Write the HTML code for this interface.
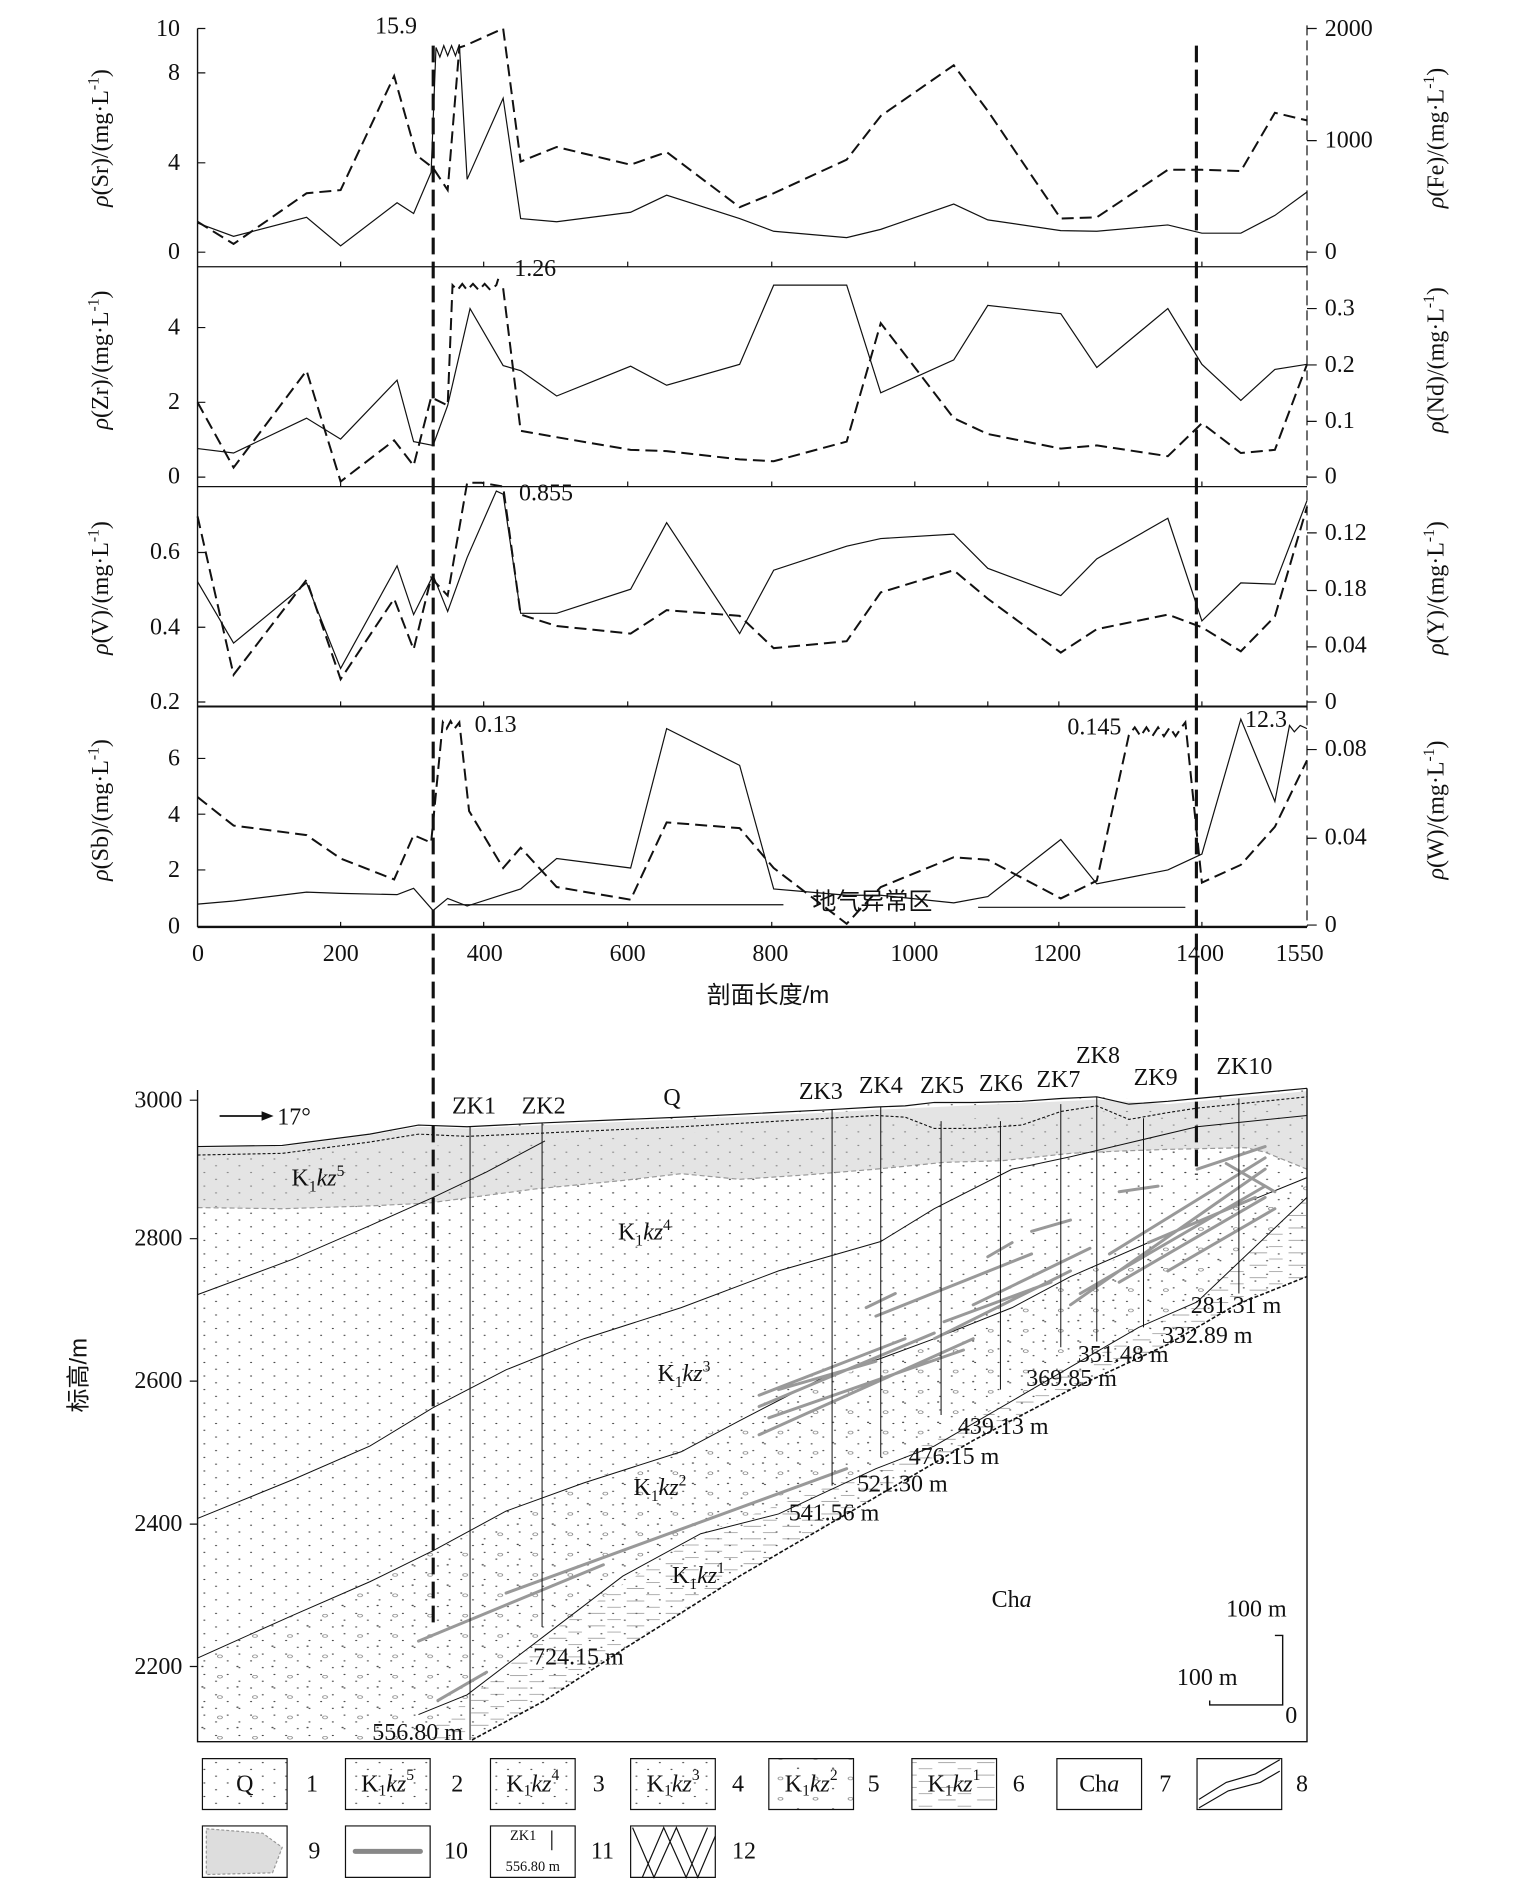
<!DOCTYPE html>
<html><head><meta charset="utf-8"><style>
html,body{margin:0;padding:0;background:#fff}
svg{display:block}
text{font-family:"Liberation Serif","Noto Serif CJK SC",serif;fill:#111}
.s{font-family:"Liberation Sans","Noto Sans CJK SC",sans-serif}
</style></head><body>
<svg width="1535" height="1892" viewBox="0 0 1279.17 1576.67" xmlns="http://www.w3.org/2000/svg">
<defs>
<pattern id="dots" patternUnits="userSpaceOnUse" width="24" height="24"><circle cx="6" cy="6" r="1.1" fill="#444"/><circle cx="18" cy="18" r="1.1" fill="#444"/></pattern>
<pattern id="circ" patternUnits="userSpaceOnUse" width="36" height="36"><circle cx="10" cy="10" r="2.5" fill="none" stroke="#666" stroke-width="0.8"/><circle cx="28" cy="28" r="1.2" fill="#444"/></pattern>
<pattern id="dash" patternUnits="userSpaceOnUse" width="40" height="22"><line x1="4" y1="8" x2="22" y2="8" stroke="#777" stroke-width="1"/><line x1="24" y1="19" x2="38" y2="19" stroke="#777" stroke-width="1"/></pattern>
</defs>

<g transform="scale(0.811,0.528)" fill="none" stroke="#111">
<g>
<line x1="203" y1="45" x2="203" y2="1463" stroke-width="1.4" vector-effect="non-scaling-stroke"/>
<line x1="1343" y1="40" x2="1343" y2="1463" stroke-width="1.2" stroke-dasharray="10,5" vector-effect="non-scaling-stroke"/>
<line x1="203" y1="421" x2="1343" y2="421" stroke-width="1.2" vector-effect="non-scaling-stroke"/>
<line x1="203" y1="768" x2="1343" y2="768" stroke-width="1.2" vector-effect="non-scaling-stroke"/>
<line x1="203" y1="1115" x2="1343" y2="1115" stroke-width="2" vector-effect="non-scaling-stroke"/>
<line x1="203" y1="1463" x2="1343" y2="1463" stroke-width="2.4" vector-effect="non-scaling-stroke"/>
</g>
<path vector-effect="non-scaling-stroke" stroke-width="1.2" d="M203 45h8M203 115h8M203 257h8M203 398h8M203 517h8M203 635h8M203 753h8M203 872h8M203 990h8M203 1108h8M203 1197h8M203 1285h8M203 1373h8M203 1463h8"/>
<path vector-effect="non-scaling-stroke" stroke-width="1.2" d="M1343 45h10M1343 222h10M1343 398h10M1343 487h10M1343 576h10M1343 665h10M1343 753h10M1343 841h10M1343 932h10M1343 1021h10M1343 1108h10M1343 1183h10M1343 1323h10M1343 1460h10"/>
<path vector-effect="non-scaling-stroke" stroke-width="1.2" d="M350 1463v-8M497 1463v-8M645 1463v-8M793 1463v-8M940 1463v-8M1088 1463v-8M1235 1463v-8M1015 421v-8M1015 768v-8M1015 1115v-8M350 421v-8M497 421v-8M645 421v-8M793 421v-8M940 421v-8M1088 421v-8M1235 421v-8M350 768v-8M497 768v-8M645 768v-8M793 768v-8M940 768v-8M1088 768v-8M1235 768v-8M350 1115v-8M497 1115v-8M645 1115v-8M793 1115v-8M940 1115v-8M1088 1115v-8M1235 1115v-8"/>

<polyline vector-effect="non-scaling-stroke" stroke-width="1.2" points="203,352 240,373 315,343 350,388 408,320 425,337 443,272 448,75 452,90 456,72 460,88 464,72 468,88 472,70 480,283 517,155 535,345 572,350 648,335 685,308 760,345 795,365 870,375 905,362 980,322 1015,347 1090,364 1127,365 1200,355 1235,368 1275,368 1310,340 1343,303"/>
<polyline vector-effect="non-scaling-stroke" stroke-width="2" stroke-dasharray="12,6" points="203,350 240,385 315,305 350,300 405,120 428,245 445,265 460,300 472,75 478,72 517,45 535,255 572,232 648,260 685,240 760,327 795,305 870,252 905,183 980,103 1015,175 1090,345 1127,343 1200,268 1235,268 1275,270 1310,178 1343,190"/>
<polyline vector-effect="non-scaling-stroke" stroke-width="1.2" points="203,708 240,715 315,660 350,693 408,600 425,697 445,703 460,640 483,487 517,577 535,585 572,625 648,578 685,608 760,575 795,450 870,450 905,620 980,568 1015,482 1090,495 1127,580 1200,487 1235,575 1275,632 1310,583 1343,575"/>
<polyline vector-effect="non-scaling-stroke" stroke-width="2" stroke-dasharray="12,6" points="203,635 240,738 315,585 350,760 405,695 425,735 443,627 460,640 465,450 470,458 475,448 480,458 486,448 492,458 498,448 504,458 510,450 512,440"/>
<polyline vector-effect="non-scaling-stroke" stroke-width="2" stroke-dasharray="12,6" points="517,455 535,680 572,690 648,710 685,712 760,725 795,728 870,697 905,510 980,660 1015,685 1090,708 1127,703 1200,720 1235,668 1275,715 1310,710 1343,575"/>
<polyline vector-effect="non-scaling-stroke" stroke-width="1.2" points="203,918 240,1015 315,920 350,1055 408,893 425,970 445,908 460,965 480,880 510,775 517,780 535,968 572,968 648,930 685,825 760,1000 795,900 870,862 905,850 980,843 1015,897 1090,940 1127,882 1200,818 1235,980 1275,920 1310,922 1343,790"/>
<polyline vector-effect="non-scaling-stroke" stroke-width="2" stroke-dasharray="12,6" points="203,815 240,1065 315,915 350,1072 405,945 425,1025 443,912 460,940 480,762 495,762 517,768 535,970 572,988 648,1000 685,963 760,972 795,1023 870,1012 905,935 980,900 1015,945 1090,1030 1127,993 1200,970 1235,990 1275,1028 1310,973 1343,800"/>
<polyline vector-effect="non-scaling-stroke" stroke-width="1.2" points="203,1427 240,1422 315,1408 350,1410 408,1412 425,1402 445,1437 460,1418 480,1430 535,1403 572,1355 648,1370 685,1150 760,1208 795,1403 870,1413 905,1413 980,1425 1015,1415 1090,1325 1127,1395 1200,1373 1235,1348 1275,1135 1310,1265 1325,1145 1330,1155 1336,1145 1343,1150"/>
<polyline vector-effect="non-scaling-stroke" stroke-width="2" stroke-dasharray="12,6" points="203,1258 240,1303 315,1318 350,1355 405,1388 425,1318 443,1330 455,1140 459,1150 463,1138 467,1150 472,1140 482,1280 517,1370 535,1338 572,1400 648,1420 685,1298 760,1307 795,1370 870,1458 905,1400 980,1353 1015,1357 1090,1418 1127,1390 1160,1160 1166,1148 1172,1162 1178,1148 1184,1162 1190,1148 1196,1162 1202,1148 1208,1162 1214,1148 1218,1140 1235,1393 1275,1365 1310,1305 1343,1200"/>
<line vector-effect="non-scaling-stroke" stroke-width="1.2" x1="460" y1="1428" x2="805" y2="1428"/>
<line vector-effect="non-scaling-stroke" stroke-width="1.2" x1="1005" y1="1432" x2="1218" y2="1432"/>
</g>

<g font-size="20" text-anchor="end" dominant-baseline="central">
<text x="150" y="24">10</text><text x="150" y="61">8</text><text x="150" y="136">4</text><text x="150" y="210">0</text>
<text x="150" y="273">4</text><text x="150" y="335">2</text><text x="150" y="397">0</text>
<text x="150" y="460">0.6</text><text x="150" y="523">0.4</text><text x="150" y="585">0.2</text>
<text x="150" y="632">6</text><text x="150" y="679">4</text><text x="150" y="725">2</text><text x="150" y="772">0</text>
</g>
<g font-size="20" dominant-baseline="central">
<text x="1104" y="24">2000</text><text x="1104" y="117">1000</text><text x="1104" y="210">0</text>
<text x="1104" y="257">0.3</text><text x="1104" y="304">0.2</text><text x="1104" y="351">0.1</text><text x="1104" y="397">0</text>
<text x="1104" y="444">0.12</text><text x="1104" y="491">0.18</text><text x="1104" y="538">0.04</text><text x="1104" y="585">0</text>
<text x="1104" y="624">0.08</text><text x="1104" y="698">0.04</text><text x="1104" y="771">0</text>
</g>
<g font-size="20" text-anchor="middle">
<text x="165" y="801">0</text><text x="284" y="801">200</text><text x="404" y="801">400</text><text x="523" y="801">600</text><text x="642" y="801">800</text><text x="762" y="801">1000</text><text x="881" y="801">1200</text><text x="1000" y="801">1400</text><text x="1083" y="801">1550</text>
<text x="640" y="836" class="s">剖面长度/m</text>
<text x="330" y="28">15.9</text><text x="446" y="230">1.26</text><text x="455" y="417">0.855</text><text x="413" y="610">0.13</text><text x="912" y="612">0.145</text><text x="1055" y="606">12.3</text>
<text x="727" y="758" class="s">地气异常区</text>
</g>
<g font-size="20" text-anchor="middle">
<text transform="translate(90,115) rotate(-90)"><tspan font-style="italic">ρ</tspan>(Sr)/(mg·L<tspan dy="-8" font-size="13">-1</tspan><tspan dy="8">)</tspan></text>
<text transform="translate(90,300) rotate(-90)"><tspan font-style="italic">ρ</tspan>(Zr)/(mg·L<tspan dy="-8" font-size="13">-1</tspan><tspan dy="8">)</tspan></text>
<text transform="translate(90,490) rotate(-90)"><tspan font-style="italic">ρ</tspan>(V)/(mg·L<tspan dy="-8" font-size="13">-1</tspan><tspan dy="8">)</tspan></text>
<text transform="translate(90,675) rotate(-90)"><tspan font-style="italic">ρ</tspan>(Sb)/(mg·L<tspan dy="-8" font-size="13">-1</tspan><tspan dy="8">)</tspan></text>
<text transform="translate(1203,115) rotate(-90)"><tspan font-style="italic">ρ</tspan>(Fe)/(mg·L<tspan dy="-8" font-size="13">-1</tspan><tspan dy="8">)</tspan></text>
<text transform="translate(1203,300) rotate(-90)"><tspan font-style="italic">ρ</tspan>(Nd)/(mg·L<tspan dy="-8" font-size="13">-1</tspan><tspan dy="8">)</tspan></text>
<text transform="translate(1203,490) rotate(-90)"><tspan font-style="italic">ρ</tspan>(Y)/(mg·L<tspan dy="-8" font-size="13">-1</tspan><tspan dy="8">)</tspan></text>
<text transform="translate(1203,675) rotate(-90)"><tspan font-style="italic">ρ</tspan>(W)/(mg·L<tspan dy="-8" font-size="13">-1</tspan><tspan dy="8">)</tspan></text>
</g>

<g transform="translate(0,833) scale(0.811,0.471)" fill="none" stroke="#111">
<polygon stroke="none" fill="url(#dots)" points="203,260 290,258 380,238 430,222 480,225 560,218 700,208 850,195 900,190 1000,182 1090,175 1127,172 1200,180 1343,157 1343,490 1270,540 1100,690 880,900 640,1150 485,1310 203,1313"/>
<polygon stroke="none" fill="url(#circ)" points="203,1165 300,1090 445,975 600,855 760,745 905,635 1040,545 1200,415 1343,315 1343,350 1230,535 1050,700 900,830 720,945 560,1125 430,1310 203,1313"/>
<polygon stroke="none" fill="url(#dash)" points="485,1310 560,1240 640,1150 760,1020 880,900 1000,780 1100,690 1200,610 1270,540 1343,490 1343,350 1230,535 1050,700 900,830 720,945 560,1125 430,1310"/>
<polygon stroke="none" fill="#e4e4e4" points="203,262 290,260 380,240 430,225 480,228 560,222 700,212 850,200 900,195 1000,187 1090,180 1127,177 1200,185 1343,162 1343,300 1300,270 1280,262 1200,265 1150,268 1100,272 1030,285 970,288 900,300 830,310 760,318 700,308 640,320 550,335 440,360 380,365 290,370 203,368"/>
<polygon stroke="none" fill="url(#dots)" opacity="0.6" points="203,280 1343,180 1343,300 203,368"/>
<polyline vector-effect="non-scaling-stroke" stroke="#999" stroke-width="1.2" stroke-dasharray="5,3" points="203,368 290,370 380,365 440,360 550,335 640,320 700,308 760,318 830,310 900,300 970,288 1030,285 1100,272 1150,268 1200,265 1280,262 1300,270 1343,300"/>
<polyline vector-effect="non-scaling-stroke" stroke-width="1.4" points="203,160 203,1313 1343,1313 1343,157"/>
<path vector-effect="non-scaling-stroke" stroke-width="1.2" d="M203 178h-8M203 423h-8M203 675h-8M203 928h-8M203 1180h-8"/>
<polyline vector-effect="non-scaling-stroke" stroke-width="1.2" points="203,260 290,258 380,238 430,222 480,225 560,218 700,208 850,195 900,190 930,188 960,182 1000,182 1050,180 1090,175 1127,172 1160,185 1200,180 1230,175 1343,157"/>
<polyline vector-effect="non-scaling-stroke" stroke-width="1.1" stroke-dasharray="3,2" points="203,275 290,272 380,252 430,238 480,242 560,236 700,225 850,210 900,205 930,208 960,228 1000,228 1050,222 1090,198 1127,188 1160,212 1200,200 1230,192 1343,172"/>
<g stroke-width="1">
<polyline vector-effect="non-scaling-stroke" points="203,522 300,460 380,400 445,350 500,305 560,250"/>
<polyline vector-effect="non-scaling-stroke" points="203,918 300,850 380,790 445,722 520,655 600,600 700,545 800,480 905,428 960,370 1040,300 1100,278 1230,225 1343,205"/>
<polyline vector-effect="non-scaling-stroke" points="203,1165 300,1090 380,1030 445,975 520,905 600,855 700,800 760,745 850,665 905,635 960,600 1040,545 1100,490 1200,415 1343,315"/>
<polyline vector-effect="non-scaling-stroke" points="430,1265 480,1230 560,1125 640,1020 720,945 800,910 900,830 960,790 1050,700 1170,580 1230,535 1343,350"/>
<polyline vector-effect="non-scaling-stroke" stroke-width="1.6" stroke-dasharray="4,2" points="485,1310 560,1240 640,1150 760,1020 880,900 1000,780 1100,690 1200,610 1270,540 1343,490"/>
</g>
<g stroke="#999" stroke-width="3" stroke-linecap="round">
<path vector-effect="non-scaling-stroke" d="M430 1135L620 1000M450 1240L500 1190M520 1050L870 830M780 770L1000 600M780 720L960 590M790 740L990 620M780 700L930 600M800 690L900 640M900 560L1060 450M960 600L1100 480M970 570L1080 500M1000 540L1120 440M890 545L920 520M1015 455L1040 430M1060 410L1100 390M1100 540L1300 300M1110 520L1300 330M1150 500L1300 350M1140 450L1300 280M1180 430L1290 350M1200 480L1310 370M1230 300L1300 260M1260 290L1310 340M1150 340L1190 330"/>
</g>
<path vector-effect="non-scaling-stroke" stroke-width="1" d="M483 225V1310M557 218V1110M855 195V860M905 190V810M967 215V735M1028 215V690M1090 185V615M1127 172V605M1175 210V580M1273 175V520"/>
<path vector-effect="non-scaling-stroke" stroke-width="1.4" d="M1310 1125H1318V1248H1243V1240"/>
<g stroke-width="1.2">
<rect vector-effect="non-scaling-stroke" x="208" y="1343" width="87" height="90" fill="url(#dots)"/>
<rect vector-effect="non-scaling-stroke" x="355" y="1343" width="87" height="90" fill="url(#dots)"/>
<rect vector-effect="non-scaling-stroke" x="504" y="1343" width="87" height="90" fill="url(#dots)"/>
<rect vector-effect="non-scaling-stroke" x="648" y="1343" width="87" height="90" fill="url(#dots)"/>
<rect vector-effect="non-scaling-stroke" x="790" y="1343" width="87" height="90" fill="url(#circ)"/>
<rect vector-effect="non-scaling-stroke" x="937" y="1343" width="87" height="90" fill="url(#dash)"/>
<rect vector-effect="non-scaling-stroke" x="1086" y="1343" width="87" height="90"/>
<rect vector-effect="non-scaling-stroke" x="1230" y="1343" width="87" height="90"/>
<path vector-effect="non-scaling-stroke" d="M1232 1415L1260 1385L1290 1370L1315 1345M1232 1430L1262 1400L1295 1385L1315 1365"/>
<rect vector-effect="non-scaling-stroke" x="208" y="1462" width="87" height="91"/>
<polygon vector-effect="non-scaling-stroke" fill="#ddd" stroke="#999" stroke-dasharray="3,2" points="212,1467 270,1475 290,1500 280,1545 212,1548"/>
<rect vector-effect="non-scaling-stroke" x="355" y="1462" width="87" height="91"/>
<line vector-effect="non-scaling-stroke" x1="365" y1="1507" x2="432" y2="1507" stroke="#888" stroke-width="5" stroke-linecap="round"/>
<rect vector-effect="non-scaling-stroke" x="504" y="1462" width="87" height="91"/>
<line vector-effect="non-scaling-stroke" x1="567" y1="1470" x2="567" y2="1505"/>
<rect vector-effect="non-scaling-stroke" x="648" y="1462" width="87" height="91"/>
<path vector-effect="non-scaling-stroke" d="M650 1465L672 1553L695 1465L717 1553L735 1480M660 1553L682 1465L705 1553L727 1465"/>
</g>
</g>

<line x1="361" y1="38" x2="361" y2="1357" stroke="#111" stroke-width="2.6" stroke-dasharray="14,6"/>
<line x1="997" y1="38" x2="997" y2="979" stroke="#111" stroke-width="2.6" stroke-dasharray="14,6"/>

<g font-size="20" text-anchor="end" dominant-baseline="central">
<text x="152" y="917">3000</text><text x="152" y="1032">2800</text><text x="152" y="1151">2600</text><text x="152" y="1270">2400</text><text x="152" y="1389">2200</text>
</g>
<text transform="translate(72,1146) rotate(-90)" font-size="20" text-anchor="middle" class="s">标高/m</text>
<g font-size="20" text-anchor="middle">
<text x="395" y="928">ZK1</text><text x="453" y="928">ZK2</text><text x="684" y="916">ZK3</text><text x="734" y="911">ZK4</text><text x="785" y="911">ZK5</text><text x="834" y="909">ZK6</text><text x="882" y="906">ZK7</text><text x="915" y="886">ZK8</text><text x="963" y="904">ZK9</text><text x="1037" y="895">ZK10</text>
<text x="560" y="921">Q</text>
<text x="348" y="1450">556.80 m</text><text x="482" y="1387">724.15 m</text><text x="695" y="1267">541.56 m</text><text x="752" y="1243">521.30 m</text><text x="795" y="1220">476.15 m</text><text x="836" y="1195">439.13 m</text><text x="893" y="1155">369.85 m</text><text x="936" y="1135">351.48 m</text><text x="1006" y="1119">332.89 m</text><text x="1030" y="1094">281.31 m</text>
<text x="1047" y="1347">100 m</text><text x="1006" y="1404">100 m</text><text x="1076" y="1436">0</text>
<text x="843" y="1339">Ch<tspan font-style="italic">a</tspan></text>
<text x="265" y="988">K<tspan font-size="13" dy="5">1</tspan><tspan font-style="italic" dy="-5">kz</tspan><tspan font-size="13" dy="-8">5</tspan></text>
<text x="537" y="1033">K<tspan font-size="13" dy="5">1</tspan><tspan font-style="italic" dy="-5">kz</tspan><tspan font-size="13" dy="-8">4</tspan></text>
<text x="570" y="1151">K<tspan font-size="13" dy="5">1</tspan><tspan font-style="italic" dy="-5">kz</tspan><tspan font-size="13" dy="-8">3</tspan></text>
<text x="550" y="1246">K<tspan font-size="13" dy="5">1</tspan><tspan font-style="italic" dy="-5">kz</tspan><tspan font-size="13" dy="-8">2</tspan></text>
<text x="582" y="1319">K<tspan font-size="13" dy="5">1</tspan><tspan font-style="italic" dy="-5">kz</tspan><tspan font-size="13" dy="-8">1</tspan></text>
<text x="245" y="937">17°</text>
</g>
<line x1="183" y1="930" x2="220" y2="930" stroke="#111" stroke-width="1.5"/>
<polygon points="228,930 218,926 218,934" fill="#111"/>

<g font-size="20" text-anchor="middle" dominant-baseline="central">
<text x="204" y="1487">Q</text>
<text x="323" y="1487">K<tspan font-size="13" dy="5">1</tspan><tspan font-style="italic" dy="-5">kz</tspan><tspan font-size="13" dy="-8">5</tspan></text>
<text x="444" y="1487">K<tspan font-size="13" dy="5">1</tspan><tspan font-style="italic" dy="-5">kz</tspan><tspan font-size="13" dy="-8">4</tspan></text>
<text x="561" y="1487">K<tspan font-size="13" dy="5">1</tspan><tspan font-style="italic" dy="-5">kz</tspan><tspan font-size="13" dy="-8">3</tspan></text>
<text x="676" y="1487">K<tspan font-size="13" dy="5">1</tspan><tspan font-style="italic" dy="-5">kz</tspan><tspan font-size="13" dy="-8">2</tspan></text>
<text x="795" y="1487">K<tspan font-size="13" dy="5">1</tspan><tspan font-style="italic" dy="-5">kz</tspan><tspan font-size="13" dy="-8">1</tspan></text>
<text x="916" y="1487">Ch<tspan font-style="italic">a</tspan></text>
<text x="260" y="1487">1</text><text x="381" y="1487">2</text><text x="499" y="1487">3</text><text x="615" y="1487">4</text><text x="728" y="1487">5</text><text x="849" y="1487">6</text><text x="971" y="1487">7</text><text x="1085" y="1487">8</text>
<text x="262" y="1543">9</text><text x="380" y="1543">10</text><text x="502" y="1543">11</text><text x="620" y="1543">12</text>
<text x="436" y="1530" font-size="12">ZK1</text><text x="444" y="1556" font-size="12">556.80 m</text>
</g>
</svg>
</body></html>
